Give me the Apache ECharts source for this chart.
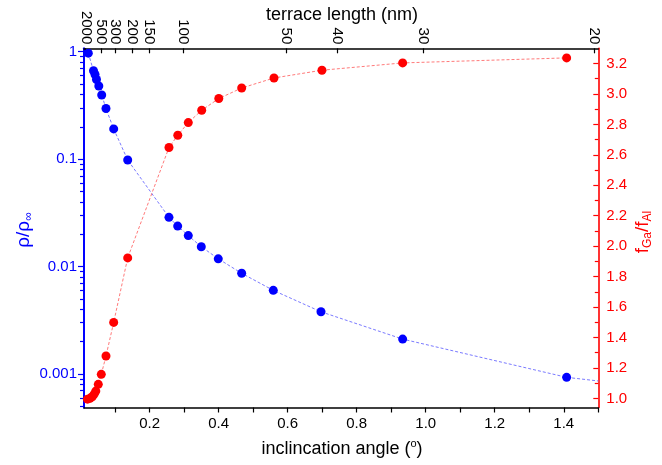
<!DOCTYPE html>
<html><head><meta charset="utf-8">
<script src="https://cdn.jsdelivr.net/npm/echarts@6/dist/echarts.min.js"></script>
<style>html,body{margin:0;padding:0;background:#fff}#c{width:662px;height:465px}</style>
</head><body><div id="c"></div>
<script>
// ---- data ----
const blueTheta = [0.0225,0.0375,0.0419,0.0462,0.0529,0.0613,0.0737,0.0960,0.1366,0.2562,0.2814,0.3121,0.3498,0.3990,0.4668,0.5584,0.6966,0.9332,1.4083];
const blueRho   = [0.97,0.665,0.613,0.551,0.480,0.395,0.296,0.191,0.0981,0.0287,0.0238,0.0194,0.0153,0.0118,0.00865,0.0060,0.00379,0.00211,0.00093];
// dotted guide line continues past the last dot to the right frame
const blueLineEndTheta = [1.5];
const blueLineEndRho   = [0.00086];
const redTheta = [0.0201,0.0274,0.0338,0.0395,0.0442,0.0514,0.0601,0.0737,0.0960,0.1366,0.2562,0.2817,0.3121,0.3510,0.4005,0.4668,0.5604,0.6994,0.9332,1.4083];
const redRatio = [0.995,1.0,1.011,1.028,1.048,1.092,1.158,1.278,1.499,1.923,2.648,2.729,2.812,2.893,2.970,3.039,3.105,3.156,3.204,3.237];

// ---- axes / ticks ----
const xTickValues  = [0.1,0.2,0.3,0.4,0.5,0.6,0.7,0.8,0.9,1.0,1.1,1.2,1.3,1.4,1.5];
const xLabelValues = [0.2,0.4,0.6,0.8,1.0,1.2,1.4];
const terraceLengths = [2000,500,300,200,150,100,50,40,30,20];
const stepHeightNm = 0.52;
const thetaTop = terraceLengths.map(L => Math.atan(stepHeightNm / L) * 180 / Math.PI);
const leftMajor = [0.001,0.01,0.1,1];
const leftMinor = [];
[0.0001,0.001,0.01,0.1].forEach(d => { for (let k = 2; k <= 9; k++) leftMinor.push(+(k*d).toPrecision(3)); });
const rightMajor = [1.0,1.2,1.4,1.6,1.8,2.0,2.2,2.4,2.6,2.8,3.0,3.2];
const rightMinor = [1.1,1.3,1.5,1.7,1.9,2.1,2.3,2.5,2.7,2.9,3.1];

const X_MIN = 0.01, X_MAX = 1.5;
const YL_MIN = 0.000487, YL_MAX = 1.076;
const YR_MIN = 0.94, YR_MAX = 3.3;

const FONT = '"Liberation Sans", Arial, sans-serif';
const BLUE = '#0000ff', RED = '#ff0000';

const chart = echarts.init(document.getElementById('c'), null, {renderer:'canvas'});
const zip = (a,b) => a.map((v,i) => [v, b[i]]);

chart.setOption({
  animation: false,
  backgroundColor: '#fff',
  grid: {left: 84, right: 63.7, top: 48.3, bottom: 57.5, containLabel: false},
  xAxis: [
    {type:'value', position:'bottom', min:X_MIN, max:X_MAX,
     axisLine:{lineStyle:{color:'#000', width:1.5}},
     axisTick:{customValues:xTickValues, length:5, lineStyle:{color:'#000', width:1.2}},
     axisLabel:{customValues:xLabelValues, formatter:v => v.toFixed(1), color:'#000', fontSize:15, fontFamily:FONT, margin:9},
     splitLine:{show:false}},
    {type:'value', position:'top', min:X_MIN, max:X_MAX,
     axisLine:{lineStyle:{color:'#000', width:1.5}},
     axisTick:{customValues:thetaTop, inside:true, length:5, lineStyle:{color:'#000', width:1.2}},
     axisLabel:{customValues:thetaTop, rotate:90, margin:4, color:'#000', fontSize:15, fontFamily:FONT,
       formatter:v => { const i = thetaTop.findIndex(t => Math.abs(t - v) < 1e-7); return i >= 0 ? String(terraceLengths[i]) : ''; }},
     splitLine:{show:false}}
  ],
  yAxis: [
    {type:'log', logBase:10, position:'left', min:YL_MIN, max:YL_MAX,
     axisLine:{lineStyle:{color:BLUE, width:1.8}},
     axisTick:{customValues:leftMajor, length:6, lineStyle:{color:BLUE, width:1.2}},
     axisLabel:{customValues:leftMajor, formatter:v => String(parseFloat((+v).toPrecision(3))), color:BLUE, fontSize:15, fontFamily:FONT, margin:7},
     splitLine:{show:false}},
    {type:'log', logBase:10, position:'left', min:YL_MIN, max:YL_MAX,
     axisLine:{show:true, lineStyle:{color:BLUE, width:1.8}},
     axisTick:{show:true, customValues:leftMinor, length:4, lineStyle:{color:BLUE, width:1.2}},
     axisLabel:{show:false}, splitLine:{show:false}},
    {type:'value', position:'right', min:YR_MIN, max:YR_MAX,
     axisLine:{lineStyle:{color:RED, width:1.6}},
     axisTick:{customValues:rightMajor, inside:true, length:5, lineStyle:{color:RED, width:1.2}},
     axisLabel:{customValues:rightMajor, formatter:v => (+v).toFixed(1), color:RED, fontSize:15, fontFamily:FONT, margin:8},
     splitLine:{show:false}},
    {type:'value', position:'right', min:YR_MIN, max:YR_MAX,
     axisLine:{show:false},
     axisTick:{customValues:rightMinor, inside:true, length:3.5, lineStyle:{color:RED, width:1.2}},
     axisLabel:{show:false}, splitLine:{show:false}}
  ],
  series: [
    {type:'line', xAxisIndex:0, yAxisIndex:0, data: zip(blueTheta.concat(blueLineEndTheta), blueRho.concat(blueLineEndRho)),
     showSymbol:false, symbol:'none', lineStyle:{color:'#7a7aff', width:1, type:[3,2]}, z:2},
    {type:'line', xAxisIndex:0, yAxisIndex:1, data: [], showSymbol:false, symbol:'none'},
    {type:'line', xAxisIndex:0, yAxisIndex:2, data: zip(redTheta, redRatio),
     showSymbol:false, symbol:'none', lineStyle:{color:'#ff7a7a', width:1, type:[3,2]}, z:2},
    {type:'scatter', xAxisIndex:0, yAxisIndex:2, data: zip(redTheta, redRatio),
     symbol:'circle', symbolSize:9, itemStyle:{color:RED, opacity:1}, z:3},
    {type:'scatter', xAxisIndex:0, yAxisIndex:0, data: zip(blueTheta, blueRho),
     symbol:'circle', symbolSize:9, itemStyle:{color:BLUE, opacity:1}, z:4}
  ],
  graphic: [
    {type:'text', x:342, y:15, style:{text:'terrace length (nm)', font:'18px '+FONT, fill:'#000', align:'center', verticalAlign:'middle'}},
    {type:'text', x:342, y:449, style:{
      text:'{a|inclincation angle (}{s|o}{a|)}', align:'center', verticalAlign:'middle',
      rich:{a:{fontSize:18, fontFamily:FONT, fill:'#000', lineHeight:22, verticalAlign:'middle'},
            s:{fontSize:11, fontFamily:FONT, fill:'#000', lineHeight:11, verticalAlign:'top'}}}},
    {type:'text', x:24, y:230, rotation:Math.PI/2, style:{
      text:'{a|ρ/ρ}{b|∞}', align:'center', verticalAlign:'middle',
      rich:{a:{fontSize:19, fontFamily:FONT, fill:BLUE, lineHeight:22, verticalAlign:'middle'},
            b:{fontSize:12, fontFamily:FONT, fill:BLUE, lineHeight:12, verticalAlign:'bottom'}}}},
    {type:'text', x:643, y:232, rotation:Math.PI/2, style:{
      text:'{a|f}{b|Ga}{a|/f}{b|Al}', align:'center', verticalAlign:'middle',
      rich:{a:{fontSize:19, fontFamily:FONT, fill:RED, lineHeight:22, verticalAlign:'middle'},
            b:{fontSize:12, fontFamily:FONT, fill:RED, lineHeight:12, verticalAlign:'bottom'}}}}
  ]
});
</script></body></html>
